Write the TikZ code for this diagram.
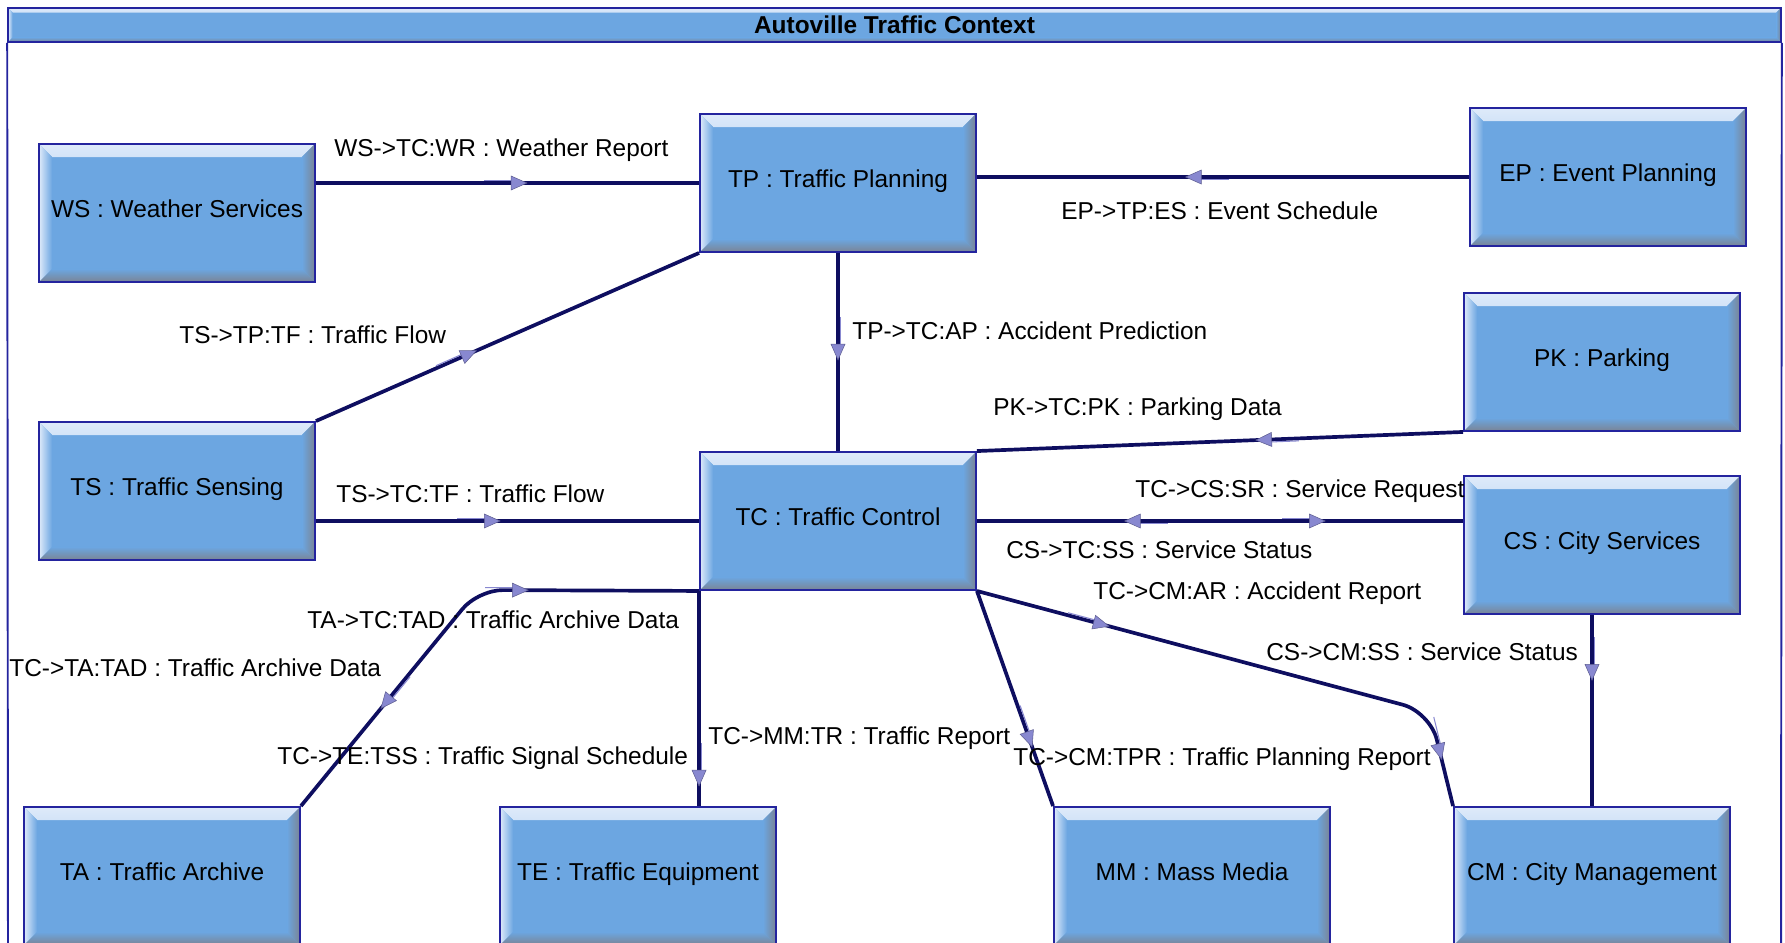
\documentclass[tikz,border=0pt]{standalone}
\usepackage{fontspec}
\setmainfont{Liberation Sans}
\usepackage{tikz}
\usetikzlibrary{decorations.markings}
\definecolor{unitfill}{RGB}{108,166,225}
\definecolor{unitlight}{RGB}{222,234,250}
\definecolor{unitdark}{RGB}{122,132,148}
\definecolor{unitedge}{RGB}{36,36,158}
\definecolor{flowline}{RGB}{14,14,96}
\definecolor{tipfill}{RGB}{136,136,208}

\begin{document}
\begin{tikzpicture}[x=0.02cm,y=-0.02cm,
        font=\fontsize{13.9}{16}\selectfont,
        unit/.style={draw=unitedge,line width=1.1pt,fill=unitfill,inner sep=0pt,
            path picture={\bevel{#1}}},
        unit/.default=0.26cm,
        box/.style={unit,minimum width=5.52cm,minimum height=2.76cm,
            text height=0.36cm,text depth=0.2cm},
        flow/.style={draw=flowline,line width=2.1pt},
        fwd/.style={postaction={decorate,decoration={markings,
            mark=at position #1 with {\flowtip}}}},
        bwd/.style={postaction={decorate,decoration={markings,
            mark=at position #1 with {\begin{scope}[rotate=180]\flowtip\end{scope}}}}},
        flowtext/.style={anchor=west,inner sep=0pt}]
    \clip (0,0) rectangle (1785,943);
    \newcommand\bevel[1]{
        \shade[top color=unitlight,bottom color=unitfill]
            (path picture bounding box.north west) -- (path picture bounding box.north east)
            -- ([shift={(-#1,-#1)}]path picture bounding box.north east)
            -- ([shift={(#1,-#1)}]path picture bounding box.north west) -- cycle;
        \shade[left color=unitlight,right color=unitfill]
            (path picture bounding box.north west) -- ([shift={(#1,-#1)}]path picture bounding box.north west)
            -- ([shift={(#1,#1)}]path picture bounding box.south west)
            -- (path picture bounding box.south west) -- cycle;
        \shade[top color=unitfill,bottom color=unitdark]
            (path picture bounding box.south west) -- ([shift={(#1,#1)}]path picture bounding box.south west)
            -- ([shift={(-#1,#1)}]path picture bounding box.south east)
            -- (path picture bounding box.south east) -- cycle;
        \shade[left color=unitfill,right color=unitdark]
            (path picture bounding box.north east) -- ([shift={(-#1,-#1)}]path picture bounding box.north east)
            -- ([shift={(-#1,#1)}]path picture bounding box.south east)
            -- (path picture bounding box.south east) -- cycle;
    }
    \newcommand\flowtip{
        \draw[tipfill,line width=0.6pt,sharp corners] (-20pt,1.4pt) -- (-4pt,1.4pt);
        \filldraw[tipfill,draw=tipfill!70!black,line width=0.3pt,sharp corners]
            (4.5pt,0) -- (-4.5pt,4pt) -- (-4.5pt,-4pt) -- cycle;
    }
    % frame and title
    \node[unit=0.09cm,minimum width=35.46cm,minimum height=0.68cm,font=\fontsize{13.9}{16}\selectfont\bfseries]
        (title) at (894.5,25) {Autoville Traffic Context};
    \draw[unitedge,line width=1.1pt] (title.south west) -- (8,960) (title.south east) -- (1781,960);
    % units
    \foreach \id/\x/\y/\name in {WS/177/213/Weather Services, TP/838/183/Traffic Planning,
            EP/1608/177/Event Planning, PK/1602/362/Parking, TS/177/491/Traffic Sensing,
            TC/838/521/Traffic Control, CS/1602/545/City Services, TA/162/876/Traffic Archive,
            TE/638/876/Traffic Equipment, MM/1192/876/Mass Media, CM/1592/876/City Management}{
        \node[box] (\id) at (\x,\y) {\id{} : \name};
    }
    \coordinate (ta-bend) at (478,590);
    \coordinate (cm-bend) at (1430,712);
    % flows
    \draw[flow,fwd=0.53] (TP.west -| WS.east) -- (TP.west);
    \draw[flow,fwd=0.56] (EP.west) -- (EP.west -| TP.east);
    \draw[flow,fwd=0.4] (TS.north east) -- (TP.south west);
    \draw[flow,fwd=0.5] (TP.south) -- (TC.north);
    \draw[flow,fwd=0.41] (PK.south west) -- (TC.north east);
    \draw[flow,fwd=0.46] (TC.west -| TS.east) -- (TC.west);
    \draw[flow,bwd=0.32,fwd=0.7] (TC.east) -- (TC.east -| CS.west);
    \draw[flow,rounded corners=14pt,bwd=0.36,fwd=0.73] (TC.south west) -- (ta-bend) -- (TA.north east);
    \draw[flow,fwd=0.87] (TC.south west) -- (TC.south west |- TE.north);
    \draw[flow,fwd=0.69] (TC.south east) -- (MM.north west);
    \draw[flow,rounded corners=16pt,fwd=0.23,fwd=0.9] (TC.south east) -- (cm-bend) -- (CM.north west);
    \draw[flow,fwd=0.3] (CM.north |- CS.south) -- (CM.north);
    % labels
    \foreach \x/\y/\txt [count=\i] in {334/150/WS->TC:WR : Weather Report,
            1061/211/EP->TP:ES : Event Schedule, 179/335/TS->TP:TF : Traffic Flow,
            852/331/TP->TC:AP : Accident Prediction, 993/409/PK->TC:PK : Parking Data,
            336/494/TS->TC:TF : Traffic Flow, 1135/491/TC->CS:SR : Service Request,
            1006/550/CS->TC:SS : Service Status, 307/620/TA->TC:TAD : Traffic Archive Data,
            9/668/TC->TA:TAD : Traffic Archive Data, 277/758/TC->TE:TSS : Traffic Signal Schedule,
            708/738/TC->MM:TR : Traffic Report, 1093/593/TC->CM:AR : Accident Report,
            1013/759/TC->CM:TPR : Traffic Planning Report, 1266/652/CS->CM:SS : Service Status}{
        \node[flowtext] (L-\i) at (\x,\y) {\txt};
    }
\end{tikzpicture}
\end{document}
